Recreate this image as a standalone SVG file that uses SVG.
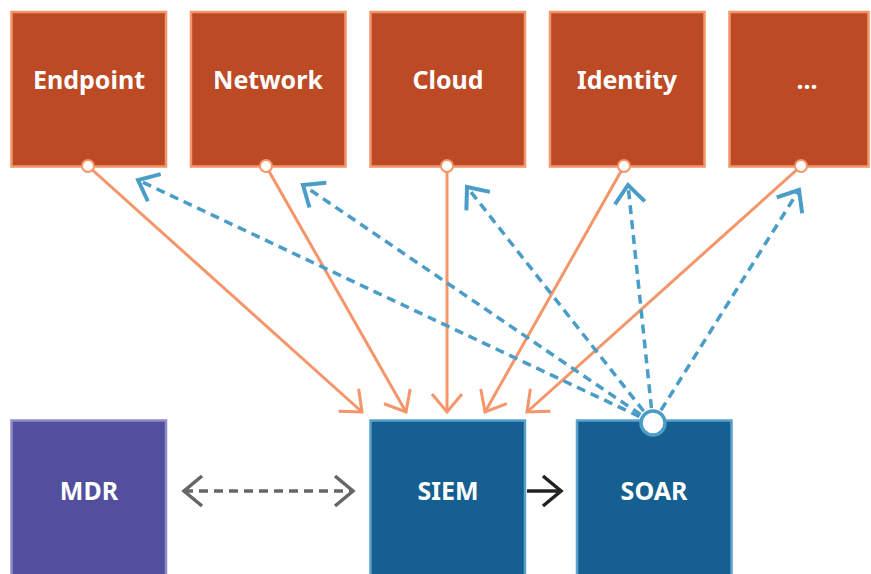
<svg xmlns="http://www.w3.org/2000/svg" width="871" height="574" viewBox="0 0 871 574">
<defs>
<style>
.top rect{fill:#bc4a25;stroke:#f4956a;stroke-width:2.5}
.blue rect{fill:#155f91;stroke:#5aa2cb;stroke-width:2.5}
.mdr rect{fill:#524f9e;stroke:#8f8cc8;stroke-width:2.5}
text{font-family:"Noto Sans","Liberation Sans",sans-serif;font-weight:bold;font-size:25px;fill:#fff;text-anchor:middle}
.feed{stroke:#f4956a;stroke-width:3;fill:none;marker-end:url(#ao)}
.act{stroke:#4a9dc7;stroke-width:3.5;fill:none;stroke-dasharray:9 6;marker-end:url(#ab)}
.pin{fill:#fff;stroke:#f4956a;stroke-width:2}
</style>
<marker id="ao" markerUnits="userSpaceOnUse" viewBox="0 0 24 36" markerWidth="24" markerHeight="36" refX="21" refY="18" orient="auto">
<path d="M3,3 L21,18 L3,33" fill="none" stroke="#f4956a" stroke-width="3"/>
</marker>
<marker id="ab" markerUnits="userSpaceOnUse" viewBox="0 0 24 36" markerWidth="24" markerHeight="36" refX="21" refY="18" orient="auto">
<path d="M3,3 L21,18 L3,33" fill="none" stroke="#4a9dc7" stroke-width="4"/>
</marker>
<marker id="ag" markerUnits="userSpaceOnUse" viewBox="0 0 24 36" markerWidth="24" markerHeight="36" refX="21" refY="18" orient="auto-start-reverse">
<path d="M3,3 L21,18 L3,33" fill="none" stroke="#666" stroke-width="3.5"/>
</marker>
<marker id="ak" markerUnits="userSpaceOnUse" viewBox="0 0 24 36" markerWidth="24" markerHeight="36" refX="21" refY="18" orient="auto">
<path d="M3,3 L21,18 L3,33" fill="none" stroke="#222" stroke-width="3.5"/>
</marker>
</defs>
<rect width="871" height="574" fill="#fff"/>
<g id="connectors">
<line class="feed" x1="88" y1="166" x2="362" y2="412"/>
<line class="feed" x1="266" y1="166" x2="406" y2="412"/>
<line class="feed" x1="447" y1="166" x2="447" y2="412"/>
<line class="feed" x1="624" y1="166" x2="485" y2="412"/>
<line class="feed" x1="801" y1="166" x2="527" y2="412"/>
<line class="act" x1="653" y1="423" x2="138" y2="180"/>
<line class="act" x1="653" y1="423" x2="303" y2="185"/>
<line class="act" x1="653" y1="423" x2="467" y2="187"/>
<line class="act" x1="653" y1="423" x2="628" y2="185"/>
<line class="act" x1="653" y1="423" x2="799" y2="190"/>
<line x1="184" y1="491" x2="353" y2="491" stroke="#666" stroke-width="3.5" stroke-dasharray="9 6" marker-start="url(#ag)" marker-end="url(#ag)"/>
<line x1="527" y1="491" x2="561" y2="491" stroke="#222" stroke-width="3.5" marker-end="url(#ak)"/>
</g>
<g id="endpoint" class="top"><rect x="11.5" y="12" width="154.5" height="154.5"/><text x="89" y="89">Endpoint</text><circle class="pin" cx="88" cy="166" r="6"/></g>
<g id="network" class="top"><rect x="191" y="12" width="154.5" height="154.5"/><text x="268" y="89">Network</text><circle class="pin" cx="266" cy="166" r="6"/></g>
<g id="cloud" class="top"><rect x="370.5" y="12" width="154.5" height="154.5"/><text x="448" y="89">Cloud</text><circle class="pin" cx="447" cy="166" r="6"/></g>
<g id="identity" class="top"><rect x="550" y="12" width="154.5" height="154.5"/><text x="627" y="89">Identity</text><circle class="pin" cx="624" cy="166" r="6"/></g>
<g id="more" class="top"><rect x="729.5" y="12" width="139" height="154.5"/><text x="807" y="89">...</text><circle class="pin" cx="801" cy="166" r="6"/></g>
<g id="mdr" class="mdr"><rect x="11.5" y="420.5" width="154.5" height="160"/><text x="89" y="500">MDR</text></g>
<g id="siem" class="blue"><rect x="370.5" y="420.5" width="154.5" height="160"/><text x="448" y="500">SIEM</text></g>
<g id="soar" class="blue"><rect x="577" y="420.5" width="154.5" height="160"/><text x="654" y="500">SOAR</text><circle cx="653" cy="423" r="12" fill="#fff" stroke="#4a9dc7" stroke-width="3.5"/></g>
</svg>
